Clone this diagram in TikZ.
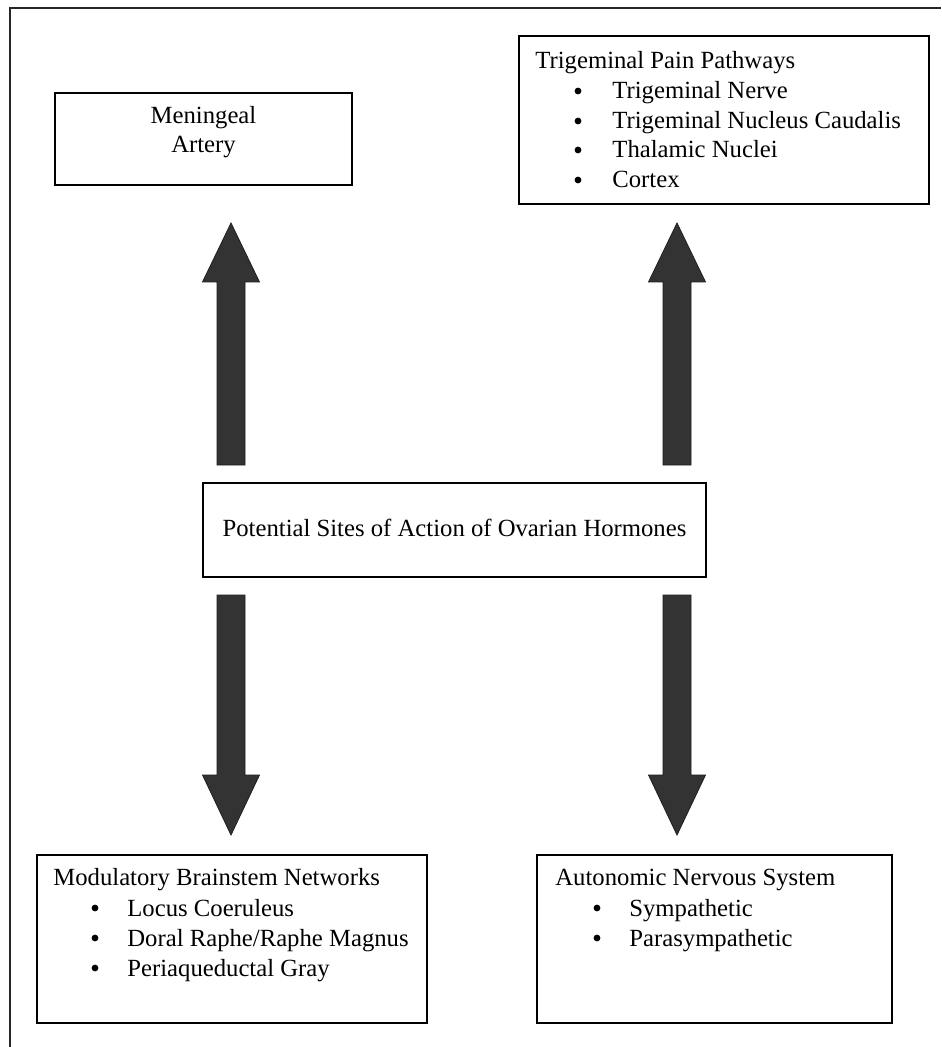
\documentclass[tikz,border=0pt]{standalone}
\usepackage{fontspec}
\setmainfont{Liberation Serif}
\usetikzlibrary{fit}
\newcommand\fs{\fontsize{12.35}{15}\selectfont}
\begin{document}
\begin{tikzpicture}[x=0.5pt,y=-0.5pt,
  box/.style={draw=black,line width=0.8pt,inner sep=0pt},
  lbl/.style={anchor=base west,inner sep=0pt,font=\fs},
  ctr/.style={anchor=base,inner sep=0pt,font=\fs},
  dot/.style={circle,fill=black,inner sep=0pt,minimum size=3.4pt},
  blk/.style={fill=black!80,draw=black!88,line width=0.4pt},
  frame/.style={draw=black!85,line width=1pt}]
\useasboundingbox (0,0) rectangle (941,1047);
\fill[white] (0,0) rectangle (941,1047);
% outer frame
\draw[frame] (10,1047) -- (10,8) -- (941,8);

% boxes
\node[box,fit={(55,93) (352,185)}] (men) {};
\node[box,fit={(519,36) (929,204)}] (tri) {};
\node[box,fit={(203,483) (706,577)}] (pot) {};
\node[box,fit={(37,855) (427,1023)}] (mod) {};
\node[box,fit={(537,855) (892,1023)}] (aut) {};

% Meningeal artery
\node[ctr] (men1) at (203.5,124) {Meningeal};
\node[ctr] (men2) at (203.5,153) {Artery};

% Trigeminal
\node[lbl] (tri0) at (535,69) {Trigeminal Pain Pathways};
\foreach \y/\t [count=\i] in {99/{Trigeminal Nerve},129/{Trigeminal Nucleus Caudalis},158/{Thalamic Nuclei},188/{Cortex}}{
  \node[dot] (trib\i) at (578,\y-8) {};
  \node[lbl] (tri\i) at (612,\y) {\t};
}

% central
\node[ctr] (potT) at (454.5,536) {Potential Sites of Action of Ovarian Hormones};

% Modulatory
\node[lbl] (mod0) at (53,885) {Modulatory Brainstem Networks};
\foreach \y/\t [count=\i] in {916/{Locus Coeruleus},946/{Doral Raphe/Raphe Magnus},976/{Periaqueductal Gray}}{
  \node[dot] (modb\i) at (95,\y-8) {};
  \node[lbl] (mod\i) at (127,\y) {\t};
}

% Autonomic
\node[lbl] (aut0) at (555,885) {Autonomic Nervous System};
\foreach \y/\t [count=\i] in {916/{Sympathetic},946/{Parasympathetic}}{
  \node[dot] (autb\i) at (597,\y-8) {};
  \node[lbl] (aut\i) at (629,\y) {\t};
}

% block arrows: tails just outside the central box
\coordinate (ul) at (231,465);
\coordinate (ur) at (677,465);
\coordinate (dl) at (231,595);
\coordinate (dr) at (677,595);
\foreach \c in {ul,ur}{
  \begin{scope}[shift={(\c)}]
    \filldraw[blk] (-14,0) -- (-14,-183) -- (-28.5,-183) -- (0,-242) -- (28.5,-183) -- (14,-183) -- (14,0) -- cycle;
  \end{scope}
}
\foreach \c in {dl,dr}{
  \begin{scope}[shift={(\c)}]
    \filldraw[blk] (-14,0) -- (-14,180) -- (-28.5,180) -- (0,240) -- (28.5,180) -- (14,180) -- (14,0) -- cycle;
  \end{scope}
}
\end{tikzpicture}
\end{document}
